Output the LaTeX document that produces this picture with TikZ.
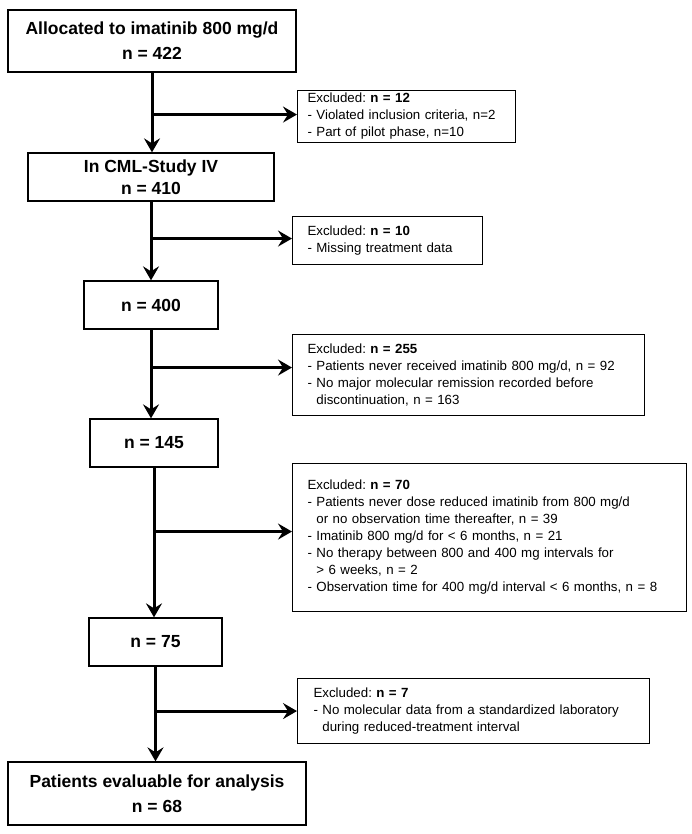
\documentclass[tikz,border=0pt]{standalone}
\usepackage{fontspec}
\setmainfont{Liberation Sans}
\usetikzlibrary{arrows.meta,calc}

\tikzset{
	mainbox/.style={draw, line width=1.3pt, align=center, inner sep=0pt,
		font=\fontsize{17.5}{25}\selectfont\bfseries},
	exbox/.style={draw, line width=1.1pt, align=left, anchor=north west,
		inner xsep=14pt, inner ysep=0pt, font=\fontsize{13.3}{17}\selectfont\frenchspacing},
	flow/.style={line width=3pt, -{Stealth[length=14pt, width=16pt, inset=5pt]}},
}
\newcommand{\indt}{\phantom{- }}

\begin{document}
\begin{tikzpicture}[x=1pt, y=-1pt]

% frame %{{{2

	\useasboundingbox (0,0) rectangle (691,834);

% main boxes %{{{2

	\node[mainbox, minimum width=288pt, minimum height=62pt] (B1) at (152,41)
		{Allocated to imatinib 800 mg/d\\n = 422};
	\node[mainbox, minimum width=246pt, minimum height=48pt,
		font=\fontsize{17.5}{22}\selectfont\bfseries] (B2) at (151,177)
		{In CML-Study IV\\n = 410};
	\node[mainbox, minimum width=134pt, minimum height=48pt] (B3) at (151,305) {n = 400};
	\node[mainbox, minimum width=128pt, minimum height=48pt] (B4) at (154,443) {n = 145};
	\node[mainbox, minimum width=133pt, minimum height=48pt] (B5) at (155.5,642) {n = 75};
	\node[mainbox, minimum width=298pt, minimum height=63pt] (B6) at (157,793.5)
		{Patients evaluable for analysis\\n = 68};

% exclusion boxes %{{{2

	\node[exbox, inner xsep=10pt, text width=198pt, minimum height=52pt] (E1) at (297,90)
		{Excluded: \textbf{n = 12}\\
		- Violated inclusion criteria, n=2\\
		- Part of pilot phase, n=10};
	\node[exbox, inner xsep=15pt, text width=160pt, minimum height=48pt] (E2) at (292,216)
		{Excluded: \textbf{n = 10}\\
		- Missing treatment data};
	\node[exbox, inner xsep=15pt, text width=322pt, minimum height=81pt] (E3) at (292,334)
		{Excluded: \textbf{n = 255}\\
		- Patients never received imatinib 800 mg/d, n = 92\\
		- No major molecular remission recorded before\\
		\indt discontinuation, n = 163};
	\node[exbox, inner xsep=15pt, text width=364pt, minimum height=148pt] (E4) at (292,463)
		{Excluded: \textbf{n = 70}\\
		- Patients never dose reduced imatinib from 800 mg/d\\
		\indt or no observation time thereafter, n = 39\\
		- Imatinib 800 mg/d for < 6 months, n = 21\\
		- No therapy between 800 and 400 mg intervals for\\
		\indt > 6 weeks, n = 2\\
		- Observation time for 400 mg/d interval < 6 months, n = 8};
	\node[exbox, inner xsep=16pt, text width=320pt, minimum height=65pt] (E5) at (297,678)
		{Excluded: \textbf{n = 7}\\
		- No molecular data from a standardized laboratory\\
		\indt during reduced-treatment interval};

% main flow %{{{2

	\draw[flow] (B1.south) -- (B1.south |- B2.north);
	\draw[flow] (B2.south) -- (B2.south |- B3.north);
	\draw[flow] (B3.south) -- (B3.south |- B4.north);
	\draw[flow] (B4.south) -- (B4.south |- B5.north);
	\draw[flow] (B5.south) -- (B5.south |- B6.north);

% branches %{{{2

	\foreach \i/\dy in {1/-2, 2/-2, 3/-7.5, 4/-6, 5/0} {
		\coordinate (J\i) at ($(B\i.south |- E\i.west)+(0,\dy)$);
		\draw[flow] (J\i) -- (J\i -| E\i.west);
	}

% closing %{{{2

\end{tikzpicture}
\end{document}
